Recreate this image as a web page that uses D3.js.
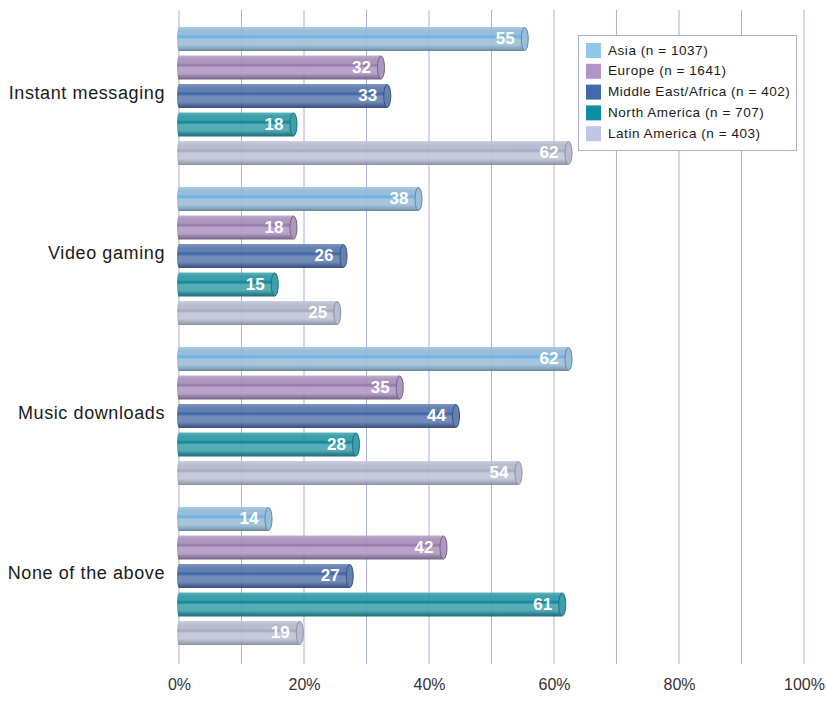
<!DOCTYPE html>
<html>
<head>
<meta charset="utf-8">
<script src="https://cdn.jsdelivr.net/npm/d3@7"></script>
<style>
  html, body { margin: 0; padding: 0; background: #ffffff; }
  svg { display: block; font-family: "Liberation Sans", Arial, sans-serif; }
</style>
</head>
<body>
<svg id="chart" width="826" height="701"></svg>
<script>
// Share of respondents using each service, by region (%)
const categories = ["Instant messaging", "Video gaming", "Music downloads", "None of the above"];
const seriesNames = ["Asia (n = 1037)", "Europe (n = 1641)", "Middle East/Africa (n = 402)", "North America (n = 707)", "Latin America (n = 403)"];
const asia = [55, 38, 62, 14];
const europe = [32, 18, 35, 42];
const middleEastAfrica = [33, 26, 44, 27];
const northAmerica = [18, 15, 28, 61];
const latinAmerica = [62, 25, 54, 19];
const tickValues = [0, 20, 40, 60, 80, 100];
const gridValues = [0, 10, 20, 30, 40, 50, 60, 70, 80, 90, 100];

const seriesValues = [asia, europe, middleEastAfrica, northAmerica, latinAmerica];
// tube shading: [top, upper, stripe, lower, shadow, edge]
const barColors = [
  ["#a7c8df", "#8fbad8", "#6aaee0", "#9cc2da", "#7d9db6", "#5c7b94"],
  ["#bea9cb", "#a78fba", "#9274ae", "#b39dc3", "#866f99", "#6c567f"],
  ["#7590bf", "#5776ab", "#3a5fa6", "#6683b5", "#3d5789", "#2c4474"],
  ["#52adb8", "#2c99a6", "#078395", "#4aa6b1", "#1a7886", "#0d6571"],
  ["#c6cada", "#b4b9cc", "#a3a9c2", "#c2c6d6", "#9a9fb4", "#83889e"]
];
const swatchColors = ["#8ec9ea", "#b095c8", "#4268ae", "#0e8ea0", "#c0c7e6"];

const svg = d3.select("#chart");
const x = d3.scaleLinear().domain([0, 100]).range([179, 804]);
const y = d3.scaleBand().domain(categories).range([16, 656]);
const yInner = d3.scaleBand().domain(d3.range(seriesNames.length)).range([6.5, y.bandwidth() - 6.5]).padding(0.158);

// tube gradients
const defs = svg.append("defs");
barColors.forEach((c, i) => {
  const g = defs.append("linearGradient").attr("id", "grad" + i)
    .attr("x1", 0).attr("y1", 0).attr("x2", 0).attr("y2", 1);
  [[0, c[0]], [0.15, c[1]], [0.32, c[1]], [0.36, c[2]], [0.44, c[2]], [0.5, c[3]],
   [0.74, c[3]], [0.9, c[4]], [1, c[5]]]
    .forEach(([o, col]) => g.append("stop").attr("offset", o).attr("stop-color", col));
});

// vertical gridlines
svg.append("g").selectAll("line").data(gridValues).join("line")
  .attr("x1", d => x(d)).attr("x2", d => x(d))
  .attr("y1", 10).attr("y2", 664)
  .attr("stroke", "#aab1d8").attr("stroke-width", 1);

// bottom axis labels
const axis = d3.axisBottom(x).tickValues(tickValues).tickFormat(d => d + "%").tickSize(0).tickPadding(0);
const axisG = svg.append("g").attr("transform", "translate(0,679)").call(axis);
axisG.select(".domain").remove();
axisG.selectAll("text").attr("font-size", 16).attr("fill", "#333333")
  .attr("font-family", "'Liberation Sans', Arial, sans-serif").attr("dy", "0.7em");

// category labels
svg.append("g").selectAll("text").data(categories).join("text")
  .attr("x", 165).attr("y", d => y(d) + y.bandwidth() / 2 - 2)
  .attr("text-anchor", "end").attr("dominant-baseline", "middle")
  .attr("font-size", 18).attr("letter-spacing", 0.6).attr("fill", "#1a1a1a").text(d => d);

// bars
const groups = svg.append("g").selectAll("g").data(categories).join("g")
  .attr("transform", d => `translate(0,${y(d)})`);

groups.each(function(cat, ci) {
  const g = d3.select(this);
  seriesValues.forEach((vals, si) => {
    const v = vals[ci];
    const by = yInner(si), bh = yInner.bandwidth();
    const x0 = x(0), x1 = x(v) + 2;
    const rx = 3.5;
    const bar = g.append("g").attr("opacity", 0.92);
    bar.append("ellipse").attr("cx", x0).attr("cy", by + bh / 2)
      .attr("rx", 2).attr("ry", bh / 2).attr("fill", `url(#grad${si})`);
    bar.append("rect").attr("x", x0).attr("y", by).attr("width", x1 - x0).attr("height", bh)
      .attr("fill", `url(#grad${si})`);
    bar.append("ellipse").attr("cx", x1).attr("cy", by + bh / 2)
      .attr("rx", rx).attr("ry", bh / 2 - 0.5)
      .attr("fill", barColors[si][1]).attr("stroke", barColors[si][5]).attr("stroke-width", 1);
    g.append("text").attr("x", x1 - 10).attr("y", by + bh / 2 + 1)
      .attr("text-anchor", "end").attr("dominant-baseline", "middle")
      .attr("font-size", 17).attr("font-weight", "bold").attr("fill", "#ffffff")
      .text(v);
  });
});

// legend
const lg = svg.append("g").attr("transform", "translate(578,35)");
lg.append("rect").attr("x", 0.5).attr("y", 0.5).attr("width", 218).attr("height", 115)
  .attr("fill", "#ffffff").attr("stroke", "#aab1d8").attr("stroke-width", 1);
const items = lg.selectAll("g.item").data(seriesNames).join("g").attr("class", "item")
  .attr("transform", (d, i) => `translate(8,${8 + i * 20.8})`);
items.append("rect").attr("width", 15).attr("height", 15).attr("fill", (d, i) => swatchColors[i]);
items.append("text").attr("x", 22).attr("y", 8).attr("dominant-baseline", "middle")
  .attr("font-size", 13.5).attr("letter-spacing", 0.55).attr("fill", "#1a1a1a").text(d => d);
</script>
</body>
</html>
